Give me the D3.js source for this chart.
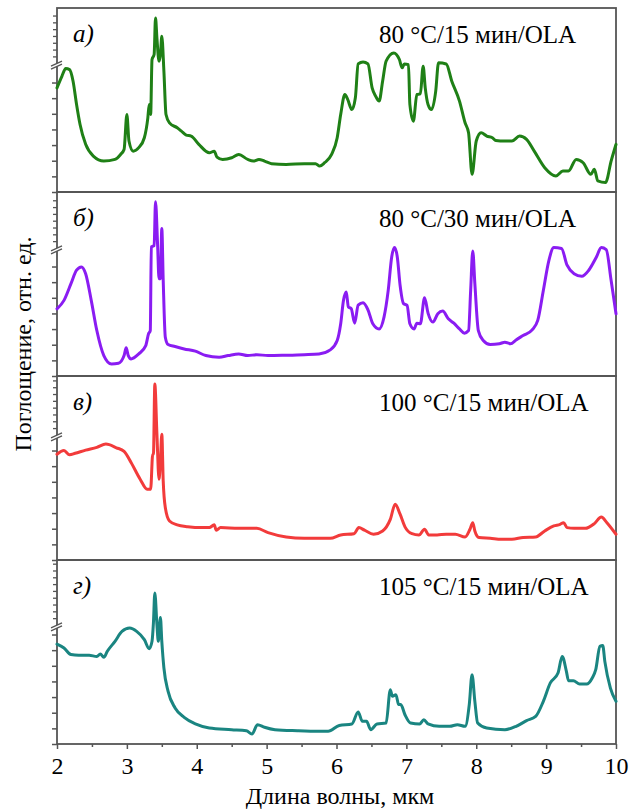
<!DOCTYPE html>
<html>
<head>
<meta charset="utf-8">
<script src="https://cdn.jsdelivr.net/npm/d3@7"></script>
<style>
  body { margin: 0; background: #fff; }
  svg text { font-family: "Liberation Serif", "DejaVu Serif", "Times New Roman", Times, serif; }
</style>
</head>
<body>
<script>
// wavelength (мкм), absorbance (relative units, 0..100 of panel height)
const spectrumA = [[2.00,56.6],[2.07,62.9],[2.125,67.1],[2.18,66.5],[2.23,60.2],[2.28,47.6],[2.33,36.7],[2.41,25.9],[2.52,19.5],[2.67,16.8],[2.83,17.7],[2.91,20.4],[2.96,23.1],[3.00,42.1],[3.03,27.7],[3.09,22.2],[3.17,24.1],[3.25,29.5],[3.30,40.3],[3.32,47.6],[3.34,42.1],[3.36,72.0],[3.39,74.7],[3.41,94.6],[3.43,83.7],[3.46,71.1],[3.48,74.7],[3.50,84.6],[3.53,65.6],[3.56,42.1],[3.61,37.6],[3.72,34.9],[3.78,33.1],[3.85,30.9],[3.92,30.4],[4.03,25.9],[4.18,21.3],[4.25,22.2],[4.29,19.0],[4.37,17.7],[4.50,18.6],[4.60,20.4],[4.73,17.7],[4.81,16.8],[4.89,17.7],[4.97,16.8],[5.07,15.4],[5.28,15.0],[5.54,15.4],[5.70,15.4],[5.76,14.1],[5.83,15.9],[5.93,20.4],[6.01,29.5],[6.06,42.1],[6.12,53.0],[6.16,50.3],[6.22,44.8],[6.27,51.2],[6.31,69.6],[6.38,70.7],[6.45,69.6],[6.51,56.6],[6.56,52.1],[6.61,49.4],[6.66,60.2],[6.71,71.1],[6.82,75.6],[6.90,72.0],[6.94,67.5],[6.97,69.6],[7.03,69.2],[7.05,47.6],[7.10,38.5],[7.15,53.0],[7.20,53.3],[7.24,68.4],[7.27,56.6],[7.31,47.6],[7.36,44.8],[7.42,54.8],[7.46,70.2],[7.57,69.6],[7.65,60.2],[7.76,49.4],[7.84,37.6],[7.89,32.2],[7.94,9.6],[8.00,27.7],[8.07,32.2],[8.15,30.4],[8.23,29.5],[8.28,28.0],[8.41,27.7],[8.51,27.7],[8.62,30.4],[8.72,28.6],[8.83,22.2],[8.98,13.2],[9.14,8.7],[9.24,11.4],[9.32,11.4],[9.43,17.7],[9.53,15.9],[9.64,9.6],[9.69,12.3],[9.74,6.0],[9.85,5.1],[9.93,16.8],[10.0,25.9]];

const spectrumB = [[2.00,36.5],[2.10,41.1],[2.20,50.2],[2.28,57.5],[2.35,59.3],[2.41,55.6],[2.49,41.1],[2.57,24.7],[2.67,11.1],[2.78,6.5],[2.88,6.9],[2.96,11.1],[2.99,15.3],[3.02,11.1],[3.06,9.3],[3.17,12.0],[3.27,16.5],[3.31,22.9],[3.335,24.7],[3.35,70.2],[3.39,70.9],[3.41,94.7],[3.44,70.9],[3.46,52.9],[3.48,52.9],[3.50,80.2],[3.52,52.0],[3.55,21.1],[3.59,17.1],[3.69,16.0],[3.82,14.7],[3.98,13.5],[4.13,11.1],[4.32,10.2],[4.45,11.1],[4.60,12.0],[4.73,11.1],[4.86,11.6],[5.02,11.1],[5.28,11.3],[5.54,11.6],[5.75,12.0],[5.91,14.2],[6.01,19.3],[6.06,28.4],[6.10,41.1],[6.14,45.6],[6.17,37.5],[6.21,36.7],[6.26,28.7],[6.31,38.5],[6.38,39.8],[6.45,36.0],[6.52,28.4],[6.61,25.6],[6.68,32.0],[6.74,46.5],[6.79,64.7],[6.83,69.8],[6.87,64.7],[6.91,49.3],[6.96,39.3],[7.01,38.4],[7.05,28.4],[7.11,25.6],[7.15,28.7],[7.20,28.4],[7.26,42.5],[7.31,34.2],[7.38,29.3],[7.45,33.8],[7.52,35.3],[7.60,31.1],[7.68,28.7],[7.76,25.6],[7.83,23.3],[7.89,24.7],[7.92,46.5],[7.95,68.0],[7.98,50.2],[8.03,24.7],[8.10,19.3],[8.20,17.1],[8.33,17.5],[8.41,18.4],[8.49,17.5],[8.57,19.6],[8.67,22.0],[8.80,25.1],[8.88,30.2],[8.96,46.5],[9.04,62.9],[9.11,69.8],[9.22,69.3],[9.30,60.2],[9.40,55.6],[9.51,54.2],[9.61,57.5],[9.72,64.7],[9.79,69.8],[9.86,68.7],[9.93,52.0],[10.0,33.8]];

const spectrumC = [[2.00,57.5],[2.10,59.5],[2.18,57.2],[2.26,58.0],[2.41,59.7],[2.57,61.2],[2.70,63.0],[2.85,61.0],[2.96,59.0],[3.06,53.0],[3.19,43.9],[3.29,38.5],[3.34,38.5],[3.37,57.5],[3.38,57.5],[3.40,95.6],[3.43,68.4],[3.46,43.9],[3.48,53.9],[3.50,68.4],[3.52,43.0],[3.55,28.5],[3.61,21.2],[3.72,19.1],[3.87,18.1],[4.08,17.6],[4.18,17.6],[4.25,19.1],[4.28,16.2],[4.34,17.6],[4.60,17.2],[4.86,17.2],[5.02,14.9],[5.28,12.5],[5.54,11.8],[5.91,11.8],[6.06,13.6],[6.25,14.3],[6.32,17.6],[6.40,16.2],[6.53,14.0],[6.66,15.8],[6.77,22.1],[6.84,30.3],[6.91,24.9],[6.98,18.0],[7.08,14.3],[7.18,13.6],[7.26,16.7],[7.32,13.6],[7.44,13.6],[7.57,14.0],[7.70,14.0],[7.84,12.5],[7.91,16.7],[7.95,20.3],[7.98,15.8],[8.04,12.2],[8.20,11.8],[8.36,11.3],[8.51,11.3],[8.67,12.2],[8.85,12.5],[8.98,15.8],[9.11,18.5],[9.20,19.4],[9.25,20.3],[9.30,17.6],[9.40,17.2],[9.56,17.2],[9.69,19.8],[9.79,23.4],[9.87,20.3],[10.0,14.0]];

const spectrumD = [[2.00,54.3],[2.10,52.2],[2.20,48.6],[2.31,48.2],[2.46,48.2],[2.57,47.6],[2.62,48.9],[2.67,47.1],[2.72,50.4],[2.83,55.8],[2.93,61.2],[3.04,63.0],[3.14,61.2],[3.25,56.7],[3.32,51.8],[3.36,55.8],[3.38,65.8],[3.40,82.1],[3.43,64.9],[3.45,55.8],[3.48,68.8],[3.50,55.8],[3.53,41.3],[3.59,28.6],[3.69,19.6],[3.82,14.5],[3.98,10.9],[4.18,8.7],[4.50,7.8],[4.71,7.2],[4.79,5.4],[4.87,10.5],[4.97,9.1],[5.12,7.8],[5.44,7.2],[5.75,6.9],[5.88,6.9],[6.04,10.1],[6.22,10.9],[6.31,17.4],[6.37,12.3],[6.43,12.3],[6.49,7.8],[6.58,10.9],[6.71,11.4],[6.77,29.5],[6.80,25.9],[6.85,26.8],[6.89,21.4],[6.92,21.4],[6.98,15.9],[7.06,11.4],[7.19,10.9],[7.25,13.2],[7.31,10.9],[7.47,9.6],[7.62,9.6],[7.73,10.5],[7.84,9.6],[7.90,21.4],[7.94,37.7],[7.98,23.2],[8.02,11.4],[8.15,8.7],[8.41,7.8],[8.57,9.6],[8.72,12.7],[8.85,15.0],[8.96,23.2],[9.06,33.2],[9.17,38.6],[9.23,47.6],[9.29,39.5],[9.32,34.4],[9.39,34.4],[9.48,32.6],[9.58,32.6],[9.66,35.9],[9.71,40.4],[9.77,53.1],[9.81,53.6],[9.84,44.9],[9.92,30.4],[10.0,23.2]];

const spectra = [spectrumA, spectrumB, spectrumC, spectrumD];
const panelLetters = ["а)", "б)", "в)", "г)"];
const panelTitles = ["80 °C/15 мин/OLA", "80 °C/30 мин/OLA", "100 °C/15 мин/OLA", "105 °C/15 мин/OLA"];
const colors = ["#1f8016", "#8a1cf2", "#f23b3b", "#1a8581"];
const breakLevels = [70, 69.6, 68, 64.7];
const yTicksLow = [0, 8.5, 17, 25.5, 34, 42.5, 51, 59.5];
const xTicks = [2, 3, 4, 5, 6, 7, 8, 9, 10];
const xMinorTicks = [2.5, 3.5, 4.5, 5.5, 6.5, 7.5, 8.5, 9.5];

const serif = "'Liberation Serif', 'DejaVu Serif', 'Times New Roman', serif";

var svg = d3.select("body")
            .append("svg")
            .attr("width", 638)
            .attr("height", 812);

const left = 57, right = 616, panelH = 184;
const panelTops = [8, 192, 376, 560];

const x = d3.scaleLinear().domain([2, 10]).range([left, right]);
const axisColor = "#555";

spectra.forEach(function(data, i) {
  const top = panelTops[i];
  const y = d3.scaleLinear().domain([0, 100]).range([top + panelH, top]);
  const g = svg.append("g");

  // frame
  g.append("rect")
    .attr("x", left).attr("y", top)
    .attr("width", right - left).attr("height", panelH)
    .attr("fill", "none")
    .attr("stroke", axisColor)
    .attr("stroke-width", 1.8);

  // y ticks below and above the axis break
  const upper = d3.range(breakLevels[i] + 3.7, 99, 3.7);
  g.append("g")
    .attr("transform", "translate(" + left + ",0)")
    .call(d3.axisLeft(y).tickValues(yTicksLow).tickSize(5).tickSizeOuter(0).tickFormat(""))
    .call(a => a.select(".domain").remove())
    .call(a => a.selectAll("line").attr("stroke", axisColor).attr("stroke-width", 1.5));
  g.append("g")
    .attr("transform", "translate(" + left + ",0)")
    .call(d3.axisLeft(y).tickValues(upper).tickSize(4).tickSizeOuter(0).tickFormat(""))
    .call(a => a.select(".domain").remove())
    .call(a => a.selectAll("line").attr("stroke", axisColor).attr("stroke-width", 1.3));

  // break mark
  const yb = y(breakLevels[i]);
  g.append("path")
    .attr("d", "M" + (left - 6) + "," + (yb + 3) + "L" + (left + 5) + "," + (yb - 2) +
               "L" + (left + 5) + "," + (yb + 1) + "L" + (left - 6) + "," + (yb + 6) + "Z")
    .attr("fill", "#fff");
  [0, 3].forEach(function(d) {
    g.append("line")
      .attr("x1", left - 6).attr("y1", yb + 3 + d)
      .attr("x2", left + 5).attr("y2", yb - 2 + d)
      .attr("stroke", axisColor).attr("stroke-width", 1.3);
  });

  // spectrum
  g.append("path")
    .datum(data)
    .attr("d", d3.line().curve(d3.curveMonotoneX).x(d => x(d[0])).y(d => y(d[1])))
    .attr("fill", "none")
    .attr("stroke", colors[i])
    .attr("stroke-width", 3)
    .attr("stroke-linejoin", "round")
    .attr("stroke-linecap", "round");

  g.append("text")
    .attr("x", 73).attr("y", top + 34)
    .attr("font-family", serif)
    .attr("font-size", 25)
    .attr("font-style", "italic")
    .text(panelLetters[i]);

  g.append("text")
    .attr("x", 379).attr("y", top + 35)
    .attr("font-family", serif)
    .attr("font-size", 25)
    .text(panelTitles[i]);
});

// x axis
const bottom = panelTops[3] + panelH;
svg.append("g")
  .attr("transform", "translate(0," + bottom + ")")
  .call(d3.axisBottom(x).tickValues(xMinorTicks).tickSize(3).tickFormat(""))
  .call(a => a.select(".domain").remove())
  .call(a => a.selectAll("line").attr("stroke", axisColor).attr("stroke-width", 1.5));
svg.append("g")
  .attr("transform", "translate(0," + bottom + ")")
  .call(d3.axisBottom(x).tickValues(xTicks).tickSize(5).tickPadding(8).tickFormat(d3.format("d")))
  .call(a => a.attr("font-family", serif))
  .call(a => a.select(".domain").remove())
  .call(a => a.selectAll("line").attr("stroke", axisColor).attr("stroke-width", 1.5))
  .call(a => a.selectAll("text")
    .attr("font-size", 24)
    .attr("fill", "#000"));

svg.append("text")
  .attr("x", 340).attr("y", 804)
  .attr("text-anchor", "middle")
  .attr("font-family", serif)
  .attr("font-size", 24)
  .text("Длина волны, мкм");

svg.append("text")
  .attr("transform", "translate(31,344) rotate(-90)")
  .attr("text-anchor", "middle")
  .attr("font-family", serif)
  .attr("font-size", 24)
  .text("Поглощение, отн. ед.");
</script>
</body>
</html>
